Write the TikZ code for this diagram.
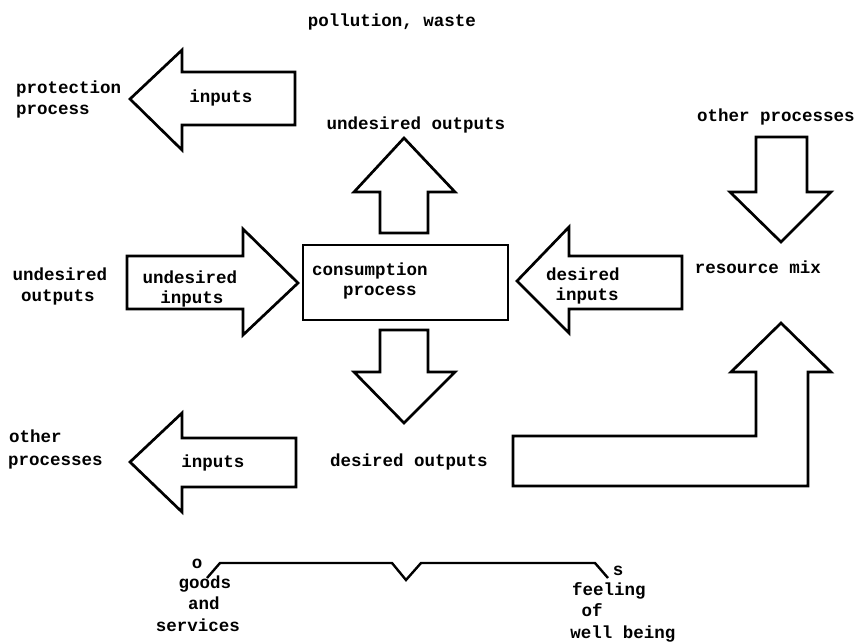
\documentclass[tikz,border=0pt]{standalone}
\usepackage{fontspec}
\setmonofont{Liberation Mono}
\begin{document}
\begin{tikzpicture}[x=1pt,y=-1pt,
  lbl/.style={font=\ttfamily\bfseries\fontsize{17.5}{21}\selectfont, inner sep=0pt, anchor=base},
  lbll/.style={lbl, anchor=base west},
  blockarrow/.style={draw=black, line width=2.7pt, line join=miter, fill=white},
  bracket/.style={draw=black, line width=2.4pt}]
\useasboundingbox[fill=white] (0,0) rectangle (857,643);

% block arrows
\draw[blockarrow] (130,99) -- (182,50) -- (182,72) -- (295,72) -- (295,125) -- (182,125) -- (182,150) -- cycle; % protection
\draw[blockarrow] (404,138) -- (455,192) -- (428,192) -- (428,233) -- (380,233) -- (380,192) -- (354,192) -- cycle; % undesired outputs up
\draw[blockarrow] (298,283) -- (243,335) -- (243,309) -- (127,309) -- (127,256) -- (243,256) -- (243,229) -- cycle; % undesired inputs
\draw[blockarrow] (517,281) -- (569,227) -- (569,256) -- (682,256) -- (682,309) -- (569,309) -- (569,333) -- cycle; % desired inputs
\draw[blockarrow] (781,242) -- (730,192) -- (756,192) -- (756,137) -- (807,137) -- (807,192) -- (831,192) -- cycle; % other processes down
\draw[blockarrow] (404,423) -- (354,372) -- (380,372) -- (380,330) -- (428,330) -- (428,372) -- (455,372) -- cycle; % desired outputs down
\draw[blockarrow] (130,462) -- (182,413) -- (182,438) -- (296,438) -- (296,487) -- (182,487) -- (182,512) -- cycle; % other processes left
\draw[blockarrow] (781,323) -- (831,372) -- (808,372) -- (808,486) -- (513,486) -- (513,436) -- (756,436) -- (756,372) -- (731,372) -- cycle; % L arrow
\draw[blockarrow] (303,245) rectangle (508,320); % box

% bracket
\coordinate (bl) at (207,578);
\coordinate (br) at (608,578);
\draw[bracket] (bl) -- (220,563) -- (392,563) -- (406,580) -- (421,563) -- (595,563) -- (br);

% labels
\node[lbl] (poll) at (392,26) {pollution, waste};
\node[lbll] (prot1) at (16,93) {protection};
\node[lbll] (prot2) at (16,114) {process};
\node[lbl] (in1) at (221,102) {inputs};
\node[lbl] (uo) at (416,129) {undesired outputs};
\node[lbl] (op1) at (776,121) {other processes};
\node[lbl] (uo2a) at (60,280) {undesired};
\node[lbl] (uo2b) at (58,301) {outputs};
\node[lbl] (uia) at (190,283) {undesired};
\node[lbl] (uib) at (192,303) {inputs};
\node[lbl] (cpa) at (370,275) {consumption};
\node[lbl] (cpb) at (380,295) {process};
\node[lbl] (dia) at (583,280) {desired};
\node[lbl] (dib) at (587,300) {inputs};
\node[lbl] (rm) at (758,273) {resource mix};
\node[lbll] (op2a) at (9,442) {other};
\node[lbll] (op2b) at (8,465) {processes};
\node[lbl] (in2) at (213,467) {inputs};
\node[lbl] (do) at (409,466) {desired outputs};
\node[lbl] (o) at (197,568) {o};
\node[lbl] (g1) at (205,588) {goods};
\node[lbl] (g2) at (204,609) {and};
\node[lbl] (g3) at (198,631) {services};
\node[lbl] (s) at (618,575) {s};
\node[lbl] (f1) at (609,595) {feeling};
\node[lbl] (f2) at (592,616) {of};
\node[lbl] (f3) at (623,638) {well being};
\end{tikzpicture}
\end{document}
